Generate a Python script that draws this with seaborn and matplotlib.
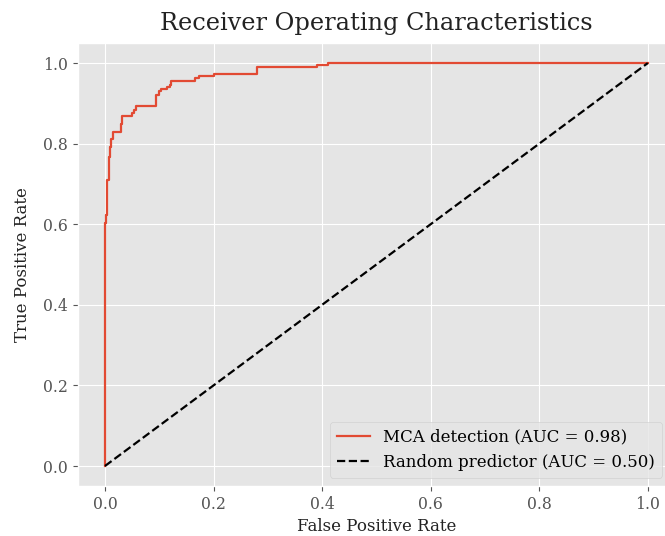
import matplotlib
matplotlib.use("Agg")
import matplotlib.pyplot as plt
import seaborn as sns
import pandas as pd

# ROC step points: at each false positive rate the true positive rate rises to the paired value
fpr_steps = [0.0, 0.0015, 0.0046, 0.0077, 0.0095, 0.012, 0.014, 0.030, 0.032,
             0.049, 0.053, 0.058, 0.094, 0.099, 0.104, 0.114, 0.119, 0.122,
             0.165, 0.174, 0.201, 0.280, 0.390, 0.411]
tpr_steps = [0.602, 0.623, 0.709, 0.767, 0.792, 0.812, 0.828, 0.849, 0.869,
             0.877, 0.884, 0.894, 0.920, 0.930, 0.935, 0.941, 0.945, 0.956,
             0.962, 0.968, 0.974, 0.990, 0.996, 1.000]
model_auc = 0.98
random_auc = 0.50
model_name = "MCA detection"
random_name = "Random predictor"

# Expand the steps into the vertices of the ROC polyline
xs, ys = [0.0], [0.0]
for f, t in zip(fpr_steps, tpr_steps):
    xs += [f, f]
    ys += [ys[-1], t]
xs.append(1.0)
ys.append(1.0)
roc = pd.DataFrame({"fpr": xs, "tpr": ys})
diag = pd.DataFrame({"fpr": [0.0, 1.0], "tpr": [0.0, 1.0]})

plt.style.use("ggplot")
plt.rcParams["font.family"] = ["DejaVu Serif"]

fig = plt.figure(figsize=(6.65, 5.36), dpi=100)
ax = fig.add_axes([0.117, 0.093, 0.898, 0.827])

sns.lineplot(data=roc, x="fpr", y="tpr", ax=ax, estimator=None, sort=False,
             color="#E24A33", linewidth=1.6,
             label=f"{model_name} (AUC = {model_auc:.2f})")
sns.lineplot(data=diag, x="fpr", y="tpr", ax=ax, estimator=None, sort=False,
             color="black", linestyle="--", linewidth=1.6,
             label=f"{random_name} (AUC = {random_auc:.2f})")

ax.set_xlim(-0.05, 1.05)
ax.set_ylim(-0.05, 1.05)
ax.set_xticks([0.0, 0.2, 0.4, 0.6, 0.8, 1.0])
ax.set_yticks([0.0, 0.2, 0.4, 0.6, 0.8, 1.0])
ax.tick_params(labelsize=11.3)
ax.set_xlabel("False Positive Rate", fontsize=12, color="#222222")
ax.set_ylabel("True Positive Rate", fontsize=12, color="#222222", labelpad=9)
ax.set_title("Receiver Operating Characteristics", fontsize=17.3,
             color="#222222", pad=9)
ax.legend(loc="lower right", bbox_to_anchor=(0.992, 0.0), fontsize=12)

fig.savefig("out.png", dpi=100)
